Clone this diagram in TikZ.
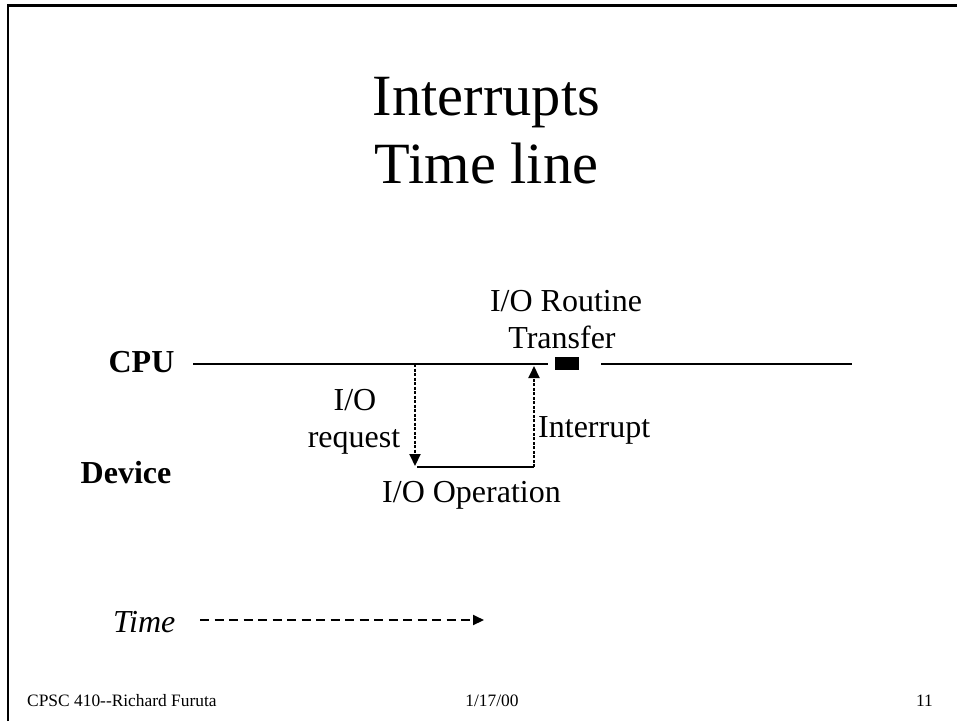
\documentclass[tikz,border=0pt]{standalone}
\usepackage{fontspec}
\setmainfont{Liberation Serif}
\usetikzlibrary{arrows.meta}
\begin{document}
\begin{tikzpicture}[x=1pt,y=-1pt,
  lbl/.style={anchor=base,inner sep=0pt,font=\fontsize{32}{37}\selectfont},
  lblb/.style={lbl,font=\fontsize{32}{37}\selectfont\bfseries},
  ttl/.style={anchor=base,inner sep=0pt,font=\fontsize{58.4}{68}\selectfont},
  foot/.style={anchor=base,inner sep=0pt,font=\fontsize{17.4}{20}\selectfont},
  solidline/.style={line width=2.6pt},
  sigarrow/.style={line width=2pt,dash pattern=on 3pt off 1.5pt,-{Triangle[length=12pt,width=11pt]}},
  timearrow/.style={line width=2pt,dash pattern=on 9pt off 5.5pt,-{Triangle[length=11pt,width=10pt]}},
  frame/.style={line width=2.8pt}
]
\useasboundingbox (0,0) rectangle (957,721);
% frame
\coordinate (fbl) at (8,721);
\coordinate (ftl) at (8,5.5);
\coordinate (ftr) at (957,5.5);
\draw[frame] (fbl) -- (ftl) -- (ftr);
% title
\node[ttl] (t1) at (486.5,115) {Interrupts};
\node[ttl] (t2) at (486.5,183) {Time line};
% labels
\node[lblb] (cpu) at (141.5,372) {CPU};
\node[lblb] (dev) at (126,483) {Device};
\node[lbl] (rt1) at (566,311) {I/O Routine};
\node[lbl] (rt2) at (562,348) {Transfer};
\node[lbl] (rq1) at (355,410) {I/O};
\node[lbl] (rq2) at (354,447) {request};
\node[lbl,anchor=base west] (intr) at (538,437) {Interrupt};
\node[lbl] (ioop) at (471.5,502) {I/O Operation};
\node[lbl,anchor=base west,font=\fontsize{32}{37}\selectfont\itshape] (time) at (113,632) {Time};
% CPU time line
\coordinate (cpuA) at (193,364);
\coordinate (reqTop) at (415,364);
\coordinate (intTop) at (534,366);
\coordinate (cpuB) at (548,364);
\node[fill=black,minimum width=24pt,minimum height=13pt,inner sep=0pt] (xfer) at (567,363.5) {};
\coordinate (cpuC) at (601,364);
\coordinate (cpuD) at (852,364);
\draw[solidline] (cpuA) -- (cpuB);
\draw[solidline] (cpuC) -- (cpuD);
% device segment
\coordinate (reqBot) at (415,466);
\coordinate (devA) at (417,467);
\coordinate (devB) at (534,467);
\draw[solidline] (devA) -- (devB);
\draw[sigarrow] (reqTop) -- (reqBot);
\draw[sigarrow] (devB) -- (intTop);
% time arrow
\coordinate (tA) at (200,620);
\coordinate (tB) at (484,620);
\draw[timearrow] (tA) -- (tB);
% footer
\node[foot,anchor=base west] (f1) at (27,706) {CPSC 410{-}{-}Richard Furuta};
\node[foot] (f2) at (492,706) {1/17/00};
\node[foot,anchor=base east] (f3) at (933,706) {11};
\end{tikzpicture}
\end{document}
